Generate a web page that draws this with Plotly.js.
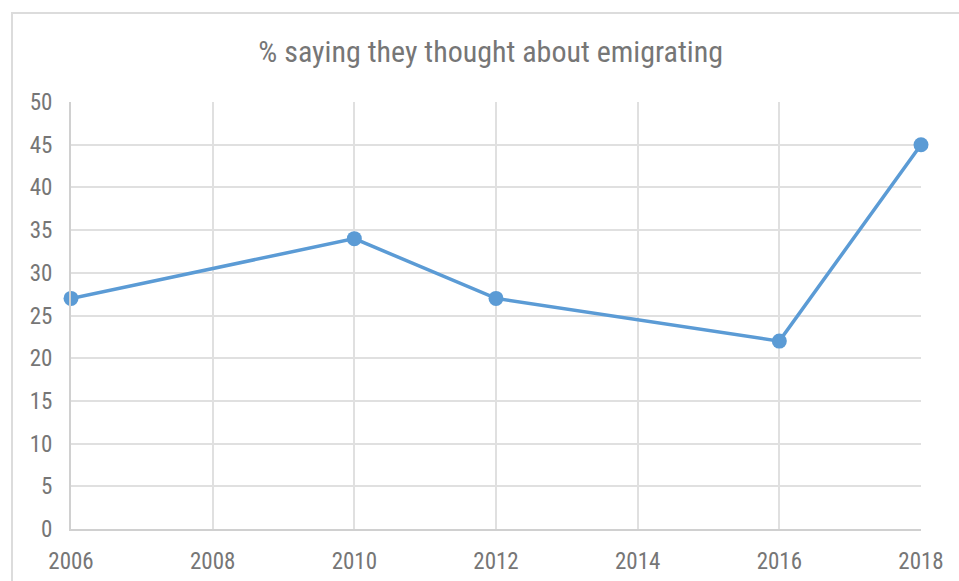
<!DOCTYPE html>
<html>
<head>
<meta charset="utf-8">
<script src="https://cdn.plot.ly/plotly-3.0.1.min.js"></script>
<style>
  body { margin: 0; overflow: hidden; background: #fff; }
  #frame { position: absolute; left: 11px; top: 12px; width: 1000px; height: 700px; border: 2px solid #dcdcdc; }
  #chart { width: 946px; height: 567px; }
</style>
</head>
<body>
<div id="frame"><div id="chart"></div></div>
<script>
const years = [2006, 2010, 2012, 2016, 2018];
const percent = [27, 34, 27, 22, 45];
const chartTitle = "% saying they thought about emigrating";

const font = "Liberation Sans Narrow, Arial Narrow, Roboto Condensed, sans-serif";
const grey = "#767676";

const trace = {
    x: years,
    y: percent,
    type: "scatter",
    mode: "lines+markers",
    line: { color: "#5b9bd5", width: 3.5 },
    marker: { color: "#5b9bd5", size: 15 },
    hoverinfo: "x+y",
    cliponaxis: false
};

const axis = {
    showgrid: true,
    gridcolor: "#e0e0e0",
    gridwidth: 2,
    showline: true,
    linecolor: "#d0d0d0",
    linewidth: 2,
    zeroline: false,
    ticks: "",
    tickfont: { family: font, size: 23, color: grey },
    fixedrange: true
};

const layout = {
    title: {
        text: chartTitle,
        font: { family: font, size: 30, color: grey },
        xref: "container", x: 0.505, xanchor: "center",
        yref: "container", y: 0.933, yanchor: "middle"
    },
    margin: { l: 58, r: 38, t: 88, b: 52 },
    paper_bgcolor: "#fff",
    plot_bgcolor: "#fff",
    showlegend: false,
    xaxis: { ...axis, range: [2006, 2018], dtick: 2, tick0: 2006, ticklabelstandoff: 10 },
    yaxis: { ...axis, range: [0, 50], dtick: 5, tick0: 0, ticklabelstandoff: 12 }
};

Plotly.newPlot("chart", [trace], layout, { displayModeBar: false, staticPlot: true });
</script>
</body>
</html>
